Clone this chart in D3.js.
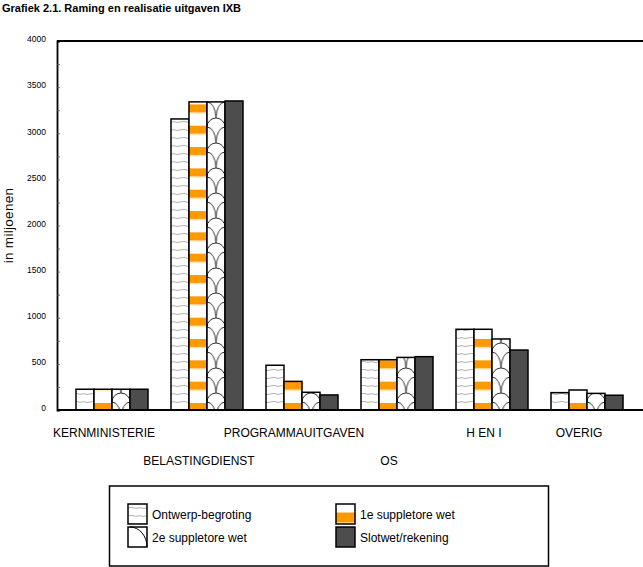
<!DOCTYPE html>
<html>
<head>
<meta charset="utf-8">
<script src="https://cdn.jsdelivr.net/npm/d3@7"></script>
<style>
  html, body { margin: 0; padding: 0; background: #fff; }
  svg { display: block; }
  text { font-family: "Liberation Sans", Arial, Helvetica, sans-serif; fill: #000; }
</style>
</head>
<body>
<svg id="chart" width="643" height="567"></svg>
<script>
// ---- data ----
const categories = ["KERNMINISTERIE", "BELASTINGDIENST", "PROGRAMMAUITGAVEN", "OS", "H EN I", "OVERIG"];
const seriesNames = ["Ontwerp-begroting", "1e suppletore wet", "2e suppletore wet", "Slotwet/rekening"];
const ontwerpBegroting = [225, 3155, 485, 545, 875, 188];
const suppletore1 = [225, 3340, 310, 545, 875, 217];
const suppletore2 = [225, 3340, 192, 570, 770, 180];
const slotwetRekening = [225, 3350, 163, 578, 650, 160];
const yTickLabels = [0, 500, 1000, 1500, 2000, 2500, 3000, 3500, 4000];
const yMinorTicks = [0, 250, 500, 750, 1000, 1250, 1500, 1750, 2000, 2250, 2500, 2750, 3000, 3250, 3500, 3750, 4000];
const titleText = "Grafiek 2.1. Raming en realisatie uitgaven IXB";
const yTitle = "in miljoenen";

const seriesValues = [ontwerpBegroting, suppletore1, suppletore2, slotwetRekening];

// ---- layout ----
const plot = { left: 57, top: 41, bottom: 410, right: 643 };
const svg = d3.select("#chart");
const defs = svg.append("defs");

const y = d3.scaleLinear().domain([0, 4000]).range([plot.bottom, plot.top]);
const x = d3.scaleBand().domain(categories).range([64.5, 634.5])
  .paddingInner(0.242).paddingOuter(0.121);
const xs = d3.scaleBand().domain(seriesNames).range([0, x.bandwidth()]);
const bw = xs.bandwidth();

// ---- patterns ----
const ORANGE = "#ff9900";
function linePattern(id, yOff) {
  const p = defs.append("pattern").attr("id", id)
    .attr("patternUnits", "userSpaceOnUse").attr("width", 18).attr("height", 8)
    .attr("x", 0).attr("y", yOff);
  p.append("rect").attr("width", 18).attr("height", 8).attr("fill", "#fff");
  p.append("path").attr("d", "M0,4 L4,3.4 L8,4.4 L12,3.6 L15,4.5 L18,4")
    .attr("fill", "none").attr("stroke", "#a8a8a8").attr("stroke-width", 0.9);
}
linePattern("pat0", y(0) - 4);

const period1 = 21.33;
function stripePattern(id, yOff, band) {
  const p = defs.append("pattern").attr("id", id)
    .attr("patternUnits", "userSpaceOnUse").attr("width", 18).attr("height", period1)
    .attr("x", 0).attr("y", yOff);
  p.append("rect").attr("width", 18).attr("height", period1).attr("fill", "#fff");
  p.append("rect").attr("width", 18).attr("height", band).attr("fill", ORANGE);
  p.append("rect").attr("y", band).attr("width", 18).attr("height", 1).attr("fill", "#ffd08a");
}
stripePattern("pat1", y(0) - 7, 8);

// 2e suppletore: scale arcs, one pattern per bar so arcs align with bar edges
const period2 = 25, capH = 9;
categories.forEach((c, i) => {
  const p = defs.append("pattern").attr("id", "pat2-" + i)
    .attr("patternUnits", "userSpaceOnUse").attr("width", bw).attr("height", period2)
    .attr("x", x(c) + xs(seriesNames[2])).attr("y", y(0) - 8);
  p.append("rect").attr("width", bw).attr("height", period2).attr("fill", "#fff");
  const h = bw / 2, arm = period2 - capH;
  p.append("path")
    .attr("d", `M0,0 A${h},${arm} 0 0 1 ${h},${arm} M${bw},0 A${h},${arm} 0 0 0 ${h},${arm} ` +
               `M0,${period2} A${h},${capH} 0 0 1 ${bw},${period2}`)
    .attr("fill", "none").attr("stroke", "#000").attr("stroke-width", 0.8);
});

const fills = [
  () => "url(#pat0)",
  () => "url(#pat1)",
  (i) => "url(#pat2-" + i + ")",
  () => "#4d4d4d"
];

// ---- title ----
svg.append("text").attr("x", 2).attr("y", 12)
  .style("font-weight", "bold").style("font-size", "11px")
  .text(titleText);

// ---- axes / frame ----
const yMinor = d3.axisLeft(y).tickValues(yMinorTicks).tickSize(-3).tickFormat("");
const gMinor = svg.append("g").attr("transform", `translate(${plot.left},0)`).call(yMinor);
gMinor.select(".domain").attr("stroke", "#000").attr("stroke-width", 1.8);
gMinor.selectAll(".tick line").attr("stroke", "#555").attr("stroke-width", 0.8);

const yMajor = d3.axisLeft(y).tickValues(yTickLabels).tickSize(0).tickPadding(11)
  .tickFormat(d3.format("d"));
const gMajor = svg.append("g").attr("transform", `translate(${plot.left},0)`).call(yMajor);
gMajor.select(".domain").remove();
gMajor.selectAll("text")
  .style("font-size", "8.5px").attr("dy", "0.1em")
  .attr("font-family", null);

svg.append("line").attr("x1", plot.left).attr("x2", plot.right)
  .attr("y1", y(4000)).attr("y2", y(4000)).attr("stroke", "#000").attr("stroke-width", 1.8);

// ---- bars ----
const barData = [];
categories.forEach((c, ci) => {
  seriesNames.forEach((s, si) => {
    barData.push({ c, ci, s, si, v: seriesValues[si][ci] });
  });
});
svg.append("g").selectAll("rect").data(barData).join("rect")
  .attr("x", d => x(d.c) + xs(d.s))
  .attr("y", d => y(d.v))
  .attr("width", bw)
  .attr("height", d => y(0) - y(d.v))
  .attr("fill", d => fills[d.si](d.ci))
  .attr("stroke", "#000").attr("stroke-width", 1.5);

svg.append("line").attr("x1", plot.left).attr("x2", plot.right)
  .attr("y1", y(0)).attr("y2", y(0)).attr("stroke", "#000").attr("stroke-width", 1.8);

// ---- category labels (staggered where they would crowd) ----
const labelShift = -8, minGap = 20;
const labels = svg.append("g").selectAll("text").data(categories).join("text")
  .attr("x", c => x(c) + x.bandwidth() / 2 + labelShift)
  .attr("y", 436.5)
  .attr("text-anchor", "middle")
  .style("font-size", "12px")
  .text(c => c);
let lastRight = -Infinity;
labels.each(function(c) {
  const w = this.getComputedTextLength();
  const cx = x(c) + x.bandwidth() / 2 + labelShift;
  if (cx - w / 2 < lastRight + minGap) {
    d3.select(this).attr("y", 464.5);
  } else {
    lastRight = cx + w / 2;
  }
});

// ---- y title ----
svg.append("text")
  .attr("transform", `translate(13,${(plot.top + plot.bottom) / 2}) rotate(-90)`)
  .attr("text-anchor", "middle")
  .style("font-size", "13.5px")
  .style("letter-spacing", "0.3px")
  .text(yTitle);

// ---- legend ----
const lg = svg.append("g");
lg.append("rect").attr("x", 109.5).attr("y", 486).attr("width", 439).attr("height", 80)
  .attr("fill", "#fff").attr("stroke", "#000").attr("stroke-width", 1.5);
stripePattern("pat1leg", 8.5 - period1, 10);
linePattern("pat0leg", 0);
const legendPos = [
  { x: 128, y: 504 }, { x: 336, y: 504 }, { x: 128, y: 527 }, { x: 336, y: 527 }
];
const legendFill = ["url(#pat0leg)", "url(#pat1leg)", "#fff", "#4d4d4d"];
seriesNames.forEach((s, i) => {
  const p = legendPos[i];
  const g = lg.append("g").attr("transform", `translate(${p.x},${p.y})`);
  g.append("rect").attr("width", 19).attr("height", 20)
    .attr("fill", legendFill[i]).attr("stroke", "#000").attr("stroke-width", 1.5);
  if (i === 2) {
    g.append("path").attr("d", "M2,0 A17,20 0 0 1 19,20")
      .attr("fill", "none").attr("stroke", "#000").attr("stroke-width", 1);
  }
  g.append("text").attr("x", 24).attr("y", 15).style("font-size", "12px").text(s);
});
</script>
</body>
</html>
